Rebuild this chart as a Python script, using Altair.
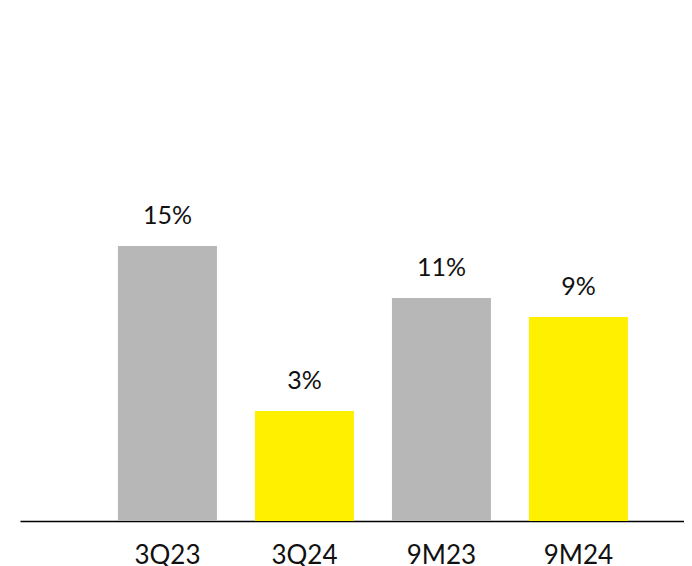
import altair as alt
import pandas as pd

categories = ["3Q23", "3Q24", "9M23", "9M24"]
labels = ["15%", "3%", "11%", "9%"]
# bar heights as drawn (arbitrary units)
bar_values = [15.0, 6.0, 12.17, 11.13]
colors = ["#B7B7B7", "#FFF000", "#B7B7B7", "#FFF000"]

df = pd.DataFrame({"cat": categories, "label": labels, "v": bar_values, "color": colors})

x = alt.X("cat:N", sort=categories,
          scale=alt.Scale(paddingInner=0.2774, paddingOuter=0.562, align=0.636),
          axis=alt.Axis(title=None, labelAngle=0, ticks=False, domainColor="#000000",
                        domainWidth=1.5, labelFontSize=26, labelFont="Lato",
                        labelColor="#111111", labelPadding=21, grid=False))
y = alt.Y("v:Q", scale=alt.Scale(domain=[0, 27], nice=False), axis=None)

bars = alt.Chart(df).mark_bar().encode(
    x=x, y=y, color=alt.Color("color:N", scale=None)
)
text = alt.Chart(df).mark_text(baseline="alphabetic", dy=-22, fontSize=25, font="Lato",
                               color="#111111").encode(
    x=alt.X("cat:N", sort=categories), y="v:Q", text="label:N"
)

chart = alt.layer(bars, text).properties(
    width=664, height=495,
    autosize=alt.AutoSizeParams(type="none"),
    padding={"left": 12, "top": 18, "right": 0, "bottom": 45},
).configure_view(stroke=None)

chart.save("out.html", embed_options={"renderer": "svg", "actions": False})
